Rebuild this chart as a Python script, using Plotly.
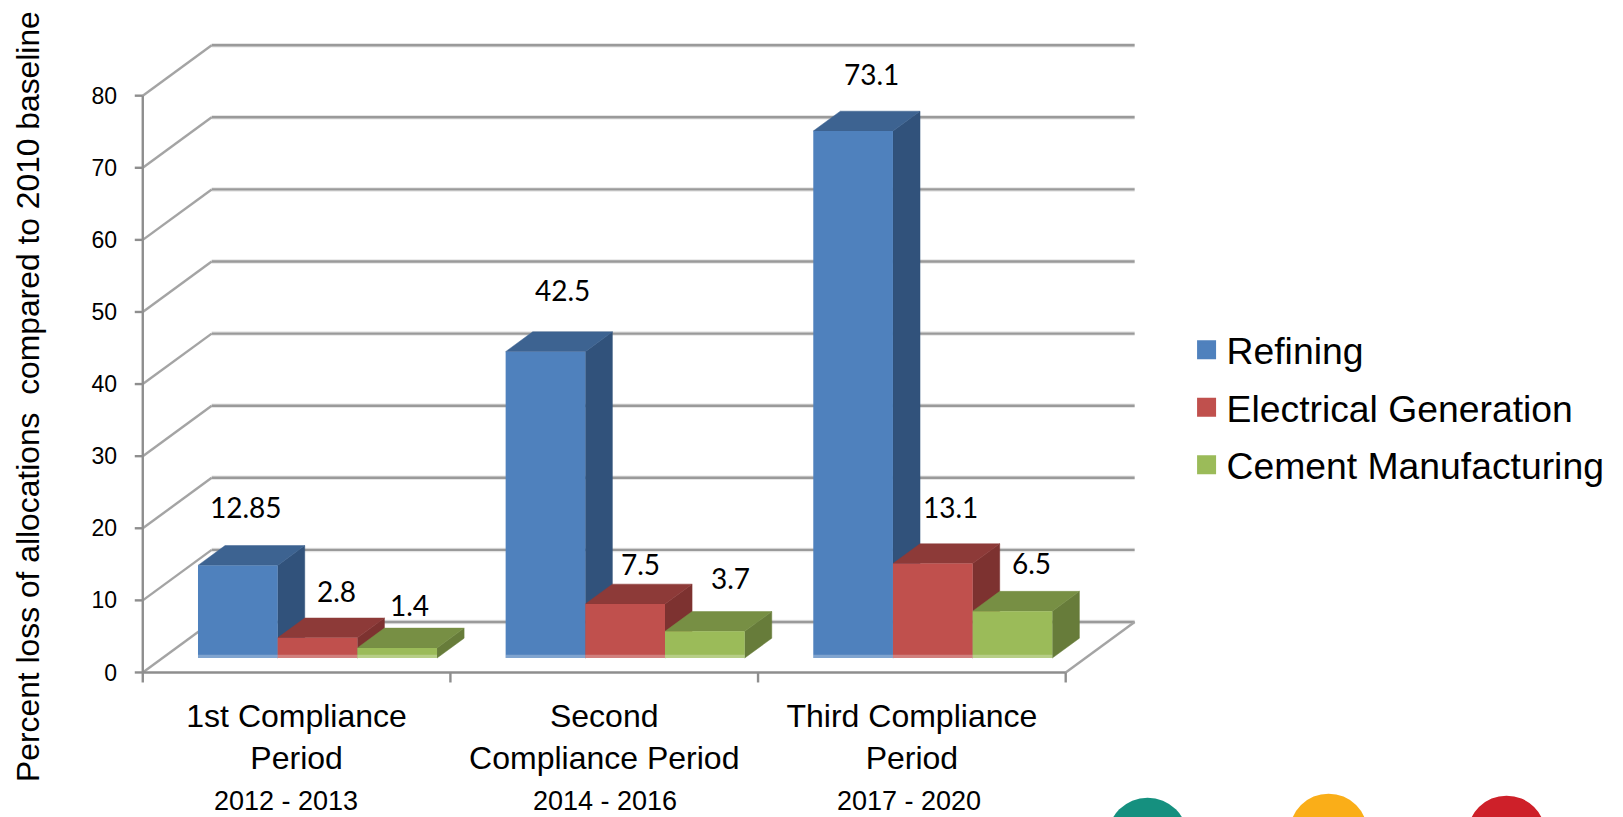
import plotly.graph_objects as go

# Chart content
PERIODS = ["1st Compliance<br>Period", "Second<br>Compliance Period", "Third Compliance<br>Period"]
PERIOD_YEARS = ["2012 - 2013", "2014 - 2016", "2017 - 2020"]
REFINING = [12.85, 42.5, 73.1]
ELECTRICAL = [2.8, 7.5, 13.1]
CEMENT = [1.4, 3.7, 6.5]
VALUE_TICKS = [0, 10, 20, 30, 40, 50, 60, 70, 80]
AXIS_TITLE = "Percent loss of allocations \u00a0compared to 2010 baseline"

SERIES = [
    ("Refining", REFINING, "#4F81BD", "#3D6391", "#31527B"),
    ("Electrical Generation", ELECTRICAL, "#C0504D", "#8D3A38", "#7D3230"),
    ("Cement Manufacturing", CEMENT, "#9BBB59", "#778F44", "#677C3A"),
]

# Hand-placed data label offsets (pixels from the front top edge of each bar)
LABEL_XSHIFT = [[9, 18, 19], [20, 16, 19], [13, 27, 20]]
LABEL_YSHIFT = [[58, 62, 57], [47, 40, 57], [43, 53, 48]]
YEAR_XSHIFT = [-11, 1, -3]

# Pseudo-3D geometry, in axis units
PX_PER_GROUP = 307.7
PX_PER_VALUE = 7.2
FRAME_LEFT, FRAME_RIGHT = -0.5, 2.5
X_MIN, X_MAX = -0.535, 2.735
Y_MIN, Y_MAX = -1.6, 88
WALL_DX, WALL_DY = 0.224, 7.0
BAR_DX, BAR_DY = 0.088, 2.75
BAR_WIDTH = 0.259
GROUP_SHIFT = 0.068
BAR_BASE = 2.0
Y_TICK_LEN = 8 / PX_PER_GROUP
X_TICK_LEN = 10 / PX_PER_VALUE

AXIS_LINE = "#8E8E8E"
GRID = "#9A9A9A"
DIAGONAL = "#A4A4A4"
GRID_SOFT = "#E6E6E6"
TEXT = "#000000"
AXIS_FONT = "Liberation Sans, Arial, sans-serif"
LABEL_FONT = "Lato, Carlito, Calibri, sans-serif"


def chain(segments):
    xs, ys = [], []
    for seg in segments:
        xs += [p[0] for p in seg] + [None]
        ys += [p[1] for p in seg] + [None]
    return xs, ys


def line_trace(segments, colour, width):
    xs, ys = chain(segments)
    return go.Scatter(x=xs, y=ys, mode="lines", line=dict(color=colour, width=width),
                      hoverinfo="skip", showlegend=False)


# Floor, side wall, back wall and axis frame
back_left, back_right = FRAME_LEFT + WALL_DX, FRAME_RIGHT + WALL_DX
back_lines = [[(back_left, v + WALL_DY), (back_right, v + WALL_DY)] for v in VALUE_TICKS]
diagonals = [[(FRAME_LEFT, v), (back_left, v + WALL_DY)] for v in VALUE_TICKS]
diagonals.append([(FRAME_RIGHT, 0), (back_right, WALL_DY)])
frame = [[(FRAME_LEFT, 0), (FRAME_RIGHT, 0)], [(FRAME_LEFT, 0), (FRAME_LEFT, VALUE_TICKS[-1])]]
frame += [[(FRAME_LEFT - Y_TICK_LEN, v), (FRAME_LEFT, v)] for v in VALUE_TICKS]
frame += [[(FRAME_LEFT + i, 0), (FRAME_LEFT + i, -X_TICK_LEN)] for i in range(len(PERIODS) + 1)]

fig = go.Figure()
fig.add_trace(line_trace(back_lines, GRID_SOFT, 4.5))
fig.add_trace(line_trace(back_lines, GRID, 2.4))
fig.add_trace(line_trace(diagonals, DIAGONAL, 2.4))
fig.add_trace(line_trace(frame, AXIS_LINE, 2.4))

# Side and top faces sit under the overlaid front faces
for k, (name, values, front, top, side) in enumerate(SERIES):
    side_polys, top_polys = [], []
    for i, v in enumerate(values):
        c = i + GROUP_SHIFT + (k - 1) * BAR_WIDTH
        l, r = c - BAR_WIDTH / 2, c + BAR_WIDTH / 2
        b, t = BAR_BASE, BAR_BASE + v
        side_polys.append([(r, b), (r + BAR_DX, b + BAR_DY), (r + BAR_DX, t + BAR_DY), (r, t), (r, b)])
        top_polys.append([(l, t), (l + BAR_DX, t + BAR_DY), (r + BAR_DX, t + BAR_DY), (r, t), (l, t)])
    for polys, colour in ((side_polys, side), (top_polys, top)):
        px, py = chain(polys)
        fig.add_trace(go.Scatter(x=px, y=py, mode="lines", fill="toself", fillcolor=colour,
                                 line=dict(color=colour, width=0.5), hoverinfo="skip", showlegend=False))

# Front faces and the pale strip along their feet
for k, (name, values, front, top, side) in enumerate(SERIES):
    xs = [i + GROUP_SHIFT + (k - 1) * BAR_WIDTH for i in range(len(values))]
    fig.add_trace(go.Bar(x=xs, y=values, base=BAR_BASE, width=BAR_WIDTH, xaxis="x2", yaxis="y2",
                         marker=dict(color=front, line=dict(width=0)), name=name, showlegend=False))
    sx, sy = chain([[(c - BAR_WIDTH / 2, BAR_BASE + 0.22), (c + BAR_WIDTH / 2, BAR_BASE + 0.22)] for c in xs])
    fig.add_trace(go.Scatter(x=sx, y=sy, xaxis="x2", yaxis="y2", mode="lines", hoverinfo="skip",
                             line=dict(color="rgba(255,255,255,0.28)", width=3.2), showlegend=False))

# Legend entries
for name, values, front, top, side in SERIES:
    fig.add_trace(go.Scatter(x=[None], y=[None], mode="markers", name=name, legendgroup=name,
                             marker=dict(symbol="square", size=16, color=front,
                                         line=dict(color=front, width=3))))

W, H = 1623, 817
ZERO_PX_X, ZERO_PX_Y = 143, 672
margin_l = ZERO_PX_X - (FRAME_LEFT - X_MIN) * PX_PER_GROUP
plot_w = (X_MAX - X_MIN) * PX_PER_GROUP
margin_r = W - margin_l - plot_w
margin_b = H - ZERO_PX_Y + Y_MIN * PX_PER_VALUE
plot_h = (Y_MAX - Y_MIN) * PX_PER_VALUE
margin_t = H - margin_b - plot_h


def paper_x(px):
    return (px - margin_l) / plot_w


def paper_y(py):
    return (H - margin_b - py) / plot_h


annotations = []
for k, (name, values, front, top, side) in enumerate(SERIES):
    for i, v in enumerate(values):
        annotations.append(dict(
            x=i + GROUP_SHIFT + (k - 1) * BAR_WIDTH, y=BAR_BASE + v, xref="x", yref="y",
            text=str(v), showarrow=False, xanchor="center", yanchor="middle",
            xshift=LABEL_XSHIFT[k][i] - 1, yshift=LABEL_YSHIFT[k][i],
            font=dict(family=LABEL_FONT, size=28, color=TEXT)))
for i, years in enumerate(PERIOD_YEARS):
    annotations.append(dict(x=i, y=0, xref="x", yref="y", text=years, showarrow=False,
                            xanchor="center", yanchor="middle", xshift=YEAR_XSHIFT[i], yshift=-129,
                            font=dict(family=AXIS_FONT, size=27, color=TEXT)))
annotations.append(dict(x=paper_x(28), y=paper_y(396), xref="paper", yref="paper",
                        text=AXIS_TITLE, showarrow=False, textangle=-90, xanchor="center", yanchor="middle",
                        font=dict(family=AXIS_FONT, size=31.8, color=TEXT)))

# Three brand discs run off the lower page edge
discs = []
for cx, cy, r, colour in ((1148, 837, 40, "#15907F"), (1329, 832, 39, "#FAAE18"), (1507, 834, 39, "#CE2029")):
    discs.append(dict(type="circle", xref="paper", yref="paper",
                      x0=paper_x(cx - r), x1=paper_x(cx + r),
                      y0=paper_y(cy + r), y1=paper_y(cy - r),
                      fillcolor=colour, line=dict(width=0), layer="above"))

fig.update_layout(
    width=W, height=H, autosize=False,
    margin=dict(l=margin_l, r=margin_r, t=margin_t, b=margin_b, pad=0),
    paper_bgcolor="white", plot_bgcolor="white", barmode="overlay",
    font=dict(family=AXIS_FONT, color=TEXT),
    xaxis=dict(range=[X_MIN, X_MAX], tickmode="array", tickvals=list(range(len(PERIODS))), ticktext=PERIODS,
               ticks="", showgrid=False, zeroline=False, showline=False, ticklabelstandoff=10,
               tickfont=dict(family=AXIS_FONT, size=32, color=TEXT)),
    yaxis=dict(range=[Y_MIN, Y_MAX], tickmode="array", tickvals=VALUE_TICKS, ticks="",
               showgrid=False, zeroline=False, showline=False, ticklabelstandoff=14,
               tickfont=dict(family=AXIS_FONT, size=23, color=TEXT)),
    xaxis2=dict(range=[X_MIN, X_MAX], overlaying="x", visible=False),
    yaxis2=dict(range=[Y_MIN, Y_MAX], overlaying="y", visible=False),
    legend=dict(x=paper_x(1187), y=paper_y(319), xanchor="left", yanchor="top",
                font=dict(family=AXIS_FONT, size=37.3, color=TEXT), tracegroupgap=6,
                bgcolor="rgba(0,0,0,0)", borderwidth=0, itemsizing="trace", traceorder="grouped"),
    annotations=annotations, shapes=discs,
)

fig.write_html("out.html", config=dict(displayModeBar=False))
